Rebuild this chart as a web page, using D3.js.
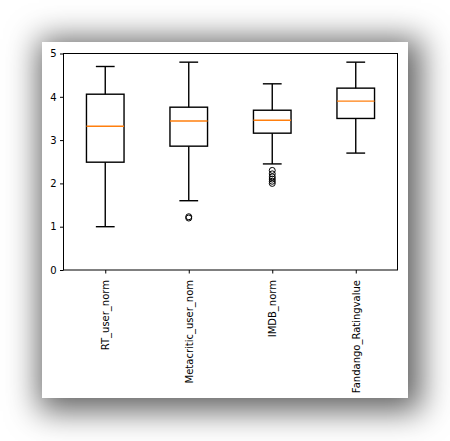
<!DOCTYPE html>
<html>
<head>
<meta charset="utf-8">
<script src="https://cdn.jsdelivr.net/npm/d3@7"></script>
<style>
    body { margin: 0; background: #fff; width: 450px; height: 441px; overflow: hidden; position: relative; }
    #card {
        position: absolute; left: 42px; top: 42px; width: 366px; height: 356px;
        background: #fff; box-shadow: 5px 5px 30px 8px rgba(0,0,0,0.62);
    }
    #chart { position: absolute; left: 0; top: 0; }
    text { font-family: "DejaVu Sans", sans-serif; font-size: 10px; fill: #000; }
</style>
</head>
<body>
<div id="card"></div>
<div id="chart"></div>
<script>
const WIDTH = 450, HEIGHT = 441;
const MARGIN = { left: 63.5, top: 53.5, right: 52.5, bottom: 171 };
const INNER_WIDTH = WIDTH - MARGIN.left - MARGIN.right;
const INNER_HEIGHT = HEIGHT - MARGIN.top - MARGIN.bottom;

// data
const categories = ["RT_user_norm", "Metacritic_user_nom", "IMDB_norm", "Fandango_Ratingvalue"];
const whiskerLow = [1.0, 1.6, 2.45, 2.7];
const q1 = [2.49, 2.86, 3.16, 3.5];
const medians = [3.32, 3.44, 3.46, 3.9];
const q3 = [4.06, 3.76, 3.69, 4.2];
const whiskerHigh = [4.7, 4.8, 4.3, 4.8];
const outliers = [[], [1.2, 1.23], [2.3, 2.22, 2.15, 2.1, 2.05, 2.0], []];
const yTicks = [0, 1, 2, 3, 4, 5];

const COLOR_MEDIAN = "#ff7f0e";

const svg = d3.select("#chart")
    .append("svg")
    .attr("width", WIDTH)
    .attr("height", HEIGHT)
    .append("g")
    .attr("transform", `translate(${MARGIN.left},${MARGIN.top})`);

// positions 1..4 with xlim 0.5..4.5 like matplotlib
const x = d3.scaleLinear().domain([0.5, 4.5]).range([0, INNER_WIDTH]);
const y = d3.scaleLinear().domain([0, 5]).range([INNER_HEIGHT, 0]);

const boxW = x(1.45) - x(1);
const capW = boxW / 2;

const data = categories.map((c, i) => ({
    name: c, pos: i + 1,
    lo: whiskerLow[i], q1: q1[i], med: medians[i], q3: q3[i], hi: whiskerHigh[i],
    out: outliers[i]
}));

const boxes = svg.selectAll(".box")
    .data(data)
    .join("g")
    .attr("class", "box");

// whiskers
boxes.append("line")
    .attr("x1", d => x(d.pos)).attr("x2", d => x(d.pos))
    .attr("y1", d => y(d.q3)).attr("y2", d => y(d.hi))
    .attr("stroke", "#000").attr("stroke-width", 1.4);
boxes.append("line")
    .attr("x1", d => x(d.pos)).attr("x2", d => x(d.pos))
    .attr("y1", d => y(d.q1)).attr("y2", d => y(d.lo))
    .attr("stroke", "#000").attr("stroke-width", 1.4);

// caps
boxes.append("line")
    .attr("x1", d => x(d.pos) - capW / 2).attr("x2", d => x(d.pos) + capW / 2)
    .attr("y1", d => y(d.hi)).attr("y2", d => y(d.hi))
    .attr("stroke", "#000").attr("stroke-width", 1.4);
boxes.append("line")
    .attr("x1", d => x(d.pos) - capW / 2).attr("x2", d => x(d.pos) + capW / 2)
    .attr("y1", d => y(d.lo)).attr("y2", d => y(d.lo))
    .attr("stroke", "#000").attr("stroke-width", 1.4);

// box
boxes.append("rect")
    .attr("x", d => x(d.pos) - boxW / 2)
    .attr("y", d => y(d.q3))
    .attr("width", boxW)
    .attr("height", d => y(d.q1) - y(d.q3))
    .attr("fill", "none")
    .attr("stroke", "#000").attr("stroke-width", 1.4);

// median
boxes.append("line")
    .attr("x1", d => x(d.pos) - boxW / 2).attr("x2", d => x(d.pos) + boxW / 2)
    .attr("y1", d => y(d.med)).attr("y2", d => y(d.med))
    .attr("stroke", COLOR_MEDIAN).attr("stroke-width", 1.4);

// fliers
boxes.selectAll("circle")
    .data(d => d.out.map(v => ({ pos: d.pos, v })))
    .join("circle")
    .attr("cx", d => x(d.pos))
    .attr("cy", d => y(d.v))
    .attr("r", 3)
    .attr("fill", "none")
    .attr("stroke", "#000").attr("stroke-width", 1);

// --- Axes ---
const yAxis = svg.append("g")
    .call(d3.axisLeft(y).tickValues(yTicks).tickFormat(d3.format("d")).tickSize(3.5).tickPadding(3.5));

const xAxis = svg.append("g")
    .attr("transform", `translate(0,${INNER_HEIGHT})`)
    .call(d3.axisBottom(x).tickValues([1, 2, 3, 4]).tickFormat((d, i) => categories[i]).tickSize(3.5).tickPadding(3.5));

xAxis.selectAll("text")
    .attr("transform", "rotate(-90)")
    .attr("x", -10)
    .attr("y", 0)
    .attr("dy", "0.35em")
    .style("text-anchor", "end");

[yAxis, xAxis].forEach(a => {
    a.select(".domain").remove();
    a.selectAll(".tick line").attr("stroke", "#000").attr("stroke-width", 1);
    a.selectAll("text").attr("fill", "#000").style("font-size", "10px")
        .style("font-family", "DejaVu Sans, sans-serif");
});

// frame
svg.append("rect")
    .attr("x", 0).attr("y", 0)
    .attr("width", INNER_WIDTH).attr("height", INNER_HEIGHT)
    .attr("fill", "none")
    .attr("stroke", "#000").attr("stroke-width", 1);
</script>
</body>
</html>
